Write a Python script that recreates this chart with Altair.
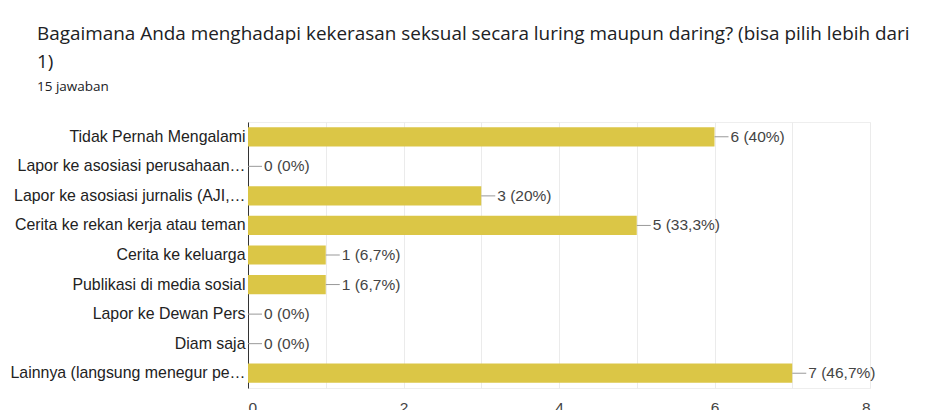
import altair as alt
import pandas as pd

categories = [
    "Tidak Pernah Mengalami",
    "Lapor ke asosiasi perusahaan…",
    "Lapor ke asosiasi jurnalis (AJI,…",
    "Cerita ke rekan kerja atau teman",
    "Cerita ke keluarga",
    "Publikasi di media sosial",
    "Lapor ke Dewan Pers",
    "Diam saja",
    "Lainnya (langsung menegur pe…",
]
counts = [6, 0, 3, 5, 1, 1, 0, 0, 7]
labels = ["6 (40%)", "0 (0%)", "3 (20%)", "5 (33,3%)", "1 (6,7%)",
          "1 (6,7%)", "0 (0%)", "0 (0%)", "7 (46,7%)"]
x_ticks = [0, 1, 2, 3, 4, 5, 6, 7, 8]

title_lines = ["Bagaimana Anda menghadapi kekerasan seksual secara luring maupun daring? (bisa pilih lebih dari", "1)"]
subtitle = "15 jawaban"

df = pd.DataFrame({"cat": categories, "n": counts, "lab": labels})

FONT = "Liberation Sans"

y_enc = alt.Y("cat:N", sort=categories,
              scale=alt.Scale(paddingInner=0.35, paddingOuter=0.175),
              axis=alt.Axis(title=None, ticks=False, domainColor="#333333",
                            labelFont=FONT, labelFontSize=15.9, labelColor="#222222",
                            labelPadding=3, labelLimit=0, grid=False))
x_enc = alt.X("n:Q", scale=alt.Scale(domain=[0, 8], nice=False),
              axis=alt.Axis(title=None, values=x_ticks, ticks=False, domain=False,
                            format="d",
                            labelExpr="datum.value % 2 == 0 ? datum.label : ''",
                            gridColor="#ebebeb", labelFont=FONT, labelFontSize=15.5,
                            labelColor="#444444", labelPadding=12))

bars = alt.Chart(df).mark_bar(color="#dbc646").encode(x=x_enc, y=y_enc)
leader = alt.Chart(df).mark_rule(color="#999999", strokeWidth=1, x2Offset=14).encode(
    x="n:Q", x2="n:Q", y=alt.Y("cat:N", sort=categories, bandPosition=0.5))
text = alt.Chart(df).mark_text(align="left", baseline="middle", dx=16, font=FONT,
                               fontSize=15.5, color="#444444").encode(
    x="n:Q", y=alt.Y("cat:N", sort=categories), text="lab:N")

chart = alt.layer(bars, leader, text).properties(
    width=622, height=266,
    autosize=alt.AutoSizeParams(type="none"),
    padding={"left": 240, "top": 114, "right": 60, "bottom": 22},
    title=alt.TitleParams(text=title_lines, subtitle=subtitle, anchor="start",
                          frame="group", dx=-211, offset=29,
                          font="Open Sans", fontSize=18.9, fontWeight="normal",
                          color="#202124", lineHeight=28,
                          subtitleFont="Open Sans", subtitleFontSize=13.5,
                          subtitleColor="#202124", subtitlePadding=8),
).configure_view(stroke="#eeeeee")

chart.save("out.html", embed_options={"renderer": "svg", "actions": False})
